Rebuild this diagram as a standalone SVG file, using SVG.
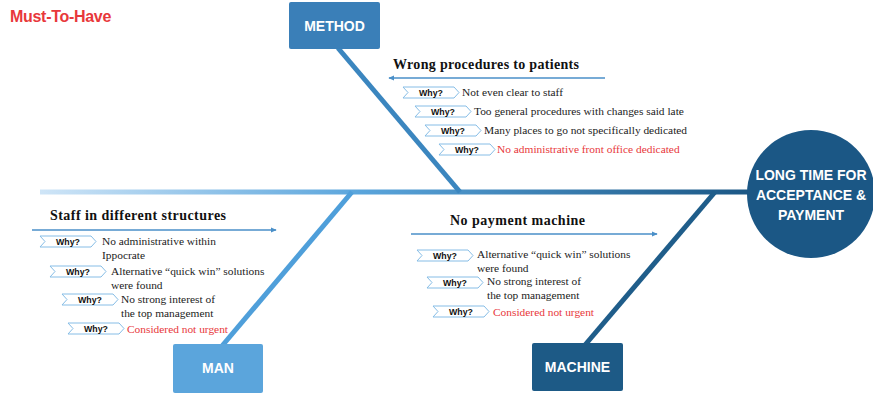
<svg xmlns="http://www.w3.org/2000/svg" width="873" height="396" viewBox="0 0 873 396">
<defs>
<linearGradient id="spineG" x1="40" y1="0" x2="750" y2="0" gradientUnits="userSpaceOnUse">
<stop offset="0" stop-color="#cfe5f7"/>
<stop offset="0.45" stop-color="#5aa5dc"/>
<stop offset="1" stop-color="#1b5785"/>
</linearGradient>
<marker id="ah" viewBox="0 0 8 8" refX="7" refY="4" markerWidth="6" markerHeight="6" orient="auto-start-reverse" markerUnits="userSpaceOnUse">
<path d="M0,0.5 L8,4 L0,7.5 Z" fill="#4a8fc8"/>
</marker>
<path id="chev" d="M0,0 H51 L56,5.5 L51,11 H0 L5,5.5 Z"/>
</defs>
<style>
.boxt{font-family:"Liberation Sans",Arial,sans-serif;font-weight:bold;font-size:14px;fill:#fff;text-anchor:middle}
.head{font-family:"Liberation Serif","Times New Roman",serif;font-weight:bold;font-size:14px;fill:#111}
.t{font-family:"Liberation Serif","Times New Roman",serif;font-size:11.4px;fill:#222}
.red{fill:#e8383b}
.ch{fill:#fff;stroke:#86bde6;stroke-width:1}
.why{font-family:"Liberation Sans",Arial,sans-serif;font-weight:bold;font-size:8.8px;fill:#111;text-anchor:middle}
.arr{stroke:#4a8fc8;stroke-width:1.3;fill:none;marker-end:url(#ah)}
</style>

<text x="10" y="22" font-family="Liberation Sans, Arial, sans-serif" font-weight="bold" font-size="16" fill="#e8383b" letter-spacing="-0.3">Must-To-Have</text>

<g id="connectors">
<line x1="40" y1="192" x2="752" y2="192" stroke="url(#spineG)" stroke-width="5"/>
<line x1="338" y1="48" x2="460" y2="192" stroke="#3b86bf" stroke-width="5"/>
<line x1="222" y1="346" x2="352" y2="192" stroke="#4f9fda" stroke-width="5"/>
<line x1="585" y1="345" x2="715" y2="192" stroke="#1f5d8a" stroke-width="5"/>
<line class="arr" x1="605" y1="78" x2="389" y2="78"/>
<line class="arr" x1="32" y1="230" x2="276" y2="230"/>
<line class="arr" x1="411" y1="234" x2="657" y2="234"/>
</g>

<g id="effect">
<circle cx="811" cy="194" r="64" fill="#1b5785"/>
<text class="boxt" x="811" y="180" font-size="15">LONG TIME FOR</text>
<text class="boxt" x="811" y="200" font-size="15">ACCEPTANCE &amp;</text>
<text class="boxt" x="811" y="220" font-size="15">PAYMENT</text>
</g>

<g id="method">
<rect x="289" y="2" width="91" height="47" rx="2" fill="#3a7fb8"/>
<text class="boxt" x="334.500" y="31">METHOD</text>
</g>
<g id="man">
<rect x="173" y="344" width="90" height="49" rx="2" fill="#5ba5dc"/>
<text class="boxt" x="218" y="373">MAN</text>
</g>
<g id="machine">
<rect x="532" y="343" width="91" height="48" rx="2" fill="#1d5a86"/>
<text class="boxt" x="577.500" y="372">MACHINE</text>
</g>

<g id="method-causes">
<text class="head" x="393" y="69" textLength="186" lengthAdjust="spacing">Wrong procedures to patients</text>
<use href="#chev" class="ch" x="403" y="87"/><text class="why" x="431" y="95.500">Why?</text>
<text class="t" x="462" y="96">Not even clear to staff</text>
<use href="#chev" class="ch" x="415" y="106"/><text class="why" x="443" y="114.500">Why?</text>
<text class="t" x="474" y="115">Too general procedures with changes said late</text>
<use href="#chev" class="ch" x="425" y="125"/><text class="why" x="453" y="133.500">Why?</text>
<text class="t" x="484" y="134">Many places to go not specifically dedicated</text>
<use href="#chev" class="ch" x="439" y="144"/><text class="why" x="467" y="152.500">Why?</text>
<text class="t red" x="497" y="153">No administrative front office dedicated</text>
</g>

<g id="man-causes">
<text class="head" x="50" y="220" textLength="176" lengthAdjust="spacing">Staff in different structures</text>
<use href="#chev" class="ch" x="40" y="236"/><text class="why" x="68" y="244.500">Why?</text>
<text class="t" x="102" y="245">No administrative within</text>
<text class="t" x="102" y="259">Ippocrate</text>
<use href="#chev" class="ch" x="50" y="266"/><text class="why" x="78" y="274.500">Why?</text>
<text class="t" x="111" y="275">Alternative “quick win” solutions</text>
<text class="t" x="111" y="289">were found</text>
<use href="#chev" class="ch" x="62" y="294"/><text class="why" x="90" y="302.500">Why?</text>
<text class="t" x="121" y="303">No strong interest of</text>
<text class="t" x="121" y="317">the top management</text>
<use href="#chev" class="ch" x="68" y="323"/><text class="why" x="96" y="331.500">Why?</text>
<text class="t red" x="127" y="333">Considered not urgent</text>
</g>

<g id="machine-causes">
<text class="head" x="450" y="225" textLength="135" lengthAdjust="spacing">No payment machine</text>
<use href="#chev" class="ch" x="417" y="250"/><text class="why" x="445" y="258.500">Why?</text>
<text class="t" x="477" y="258">Alternative “quick win” solutions</text>
<text class="t" x="477" y="272">were found</text>
<use href="#chev" class="ch" x="427" y="277"/><text class="why" x="455" y="285.500">Why?</text>
<text class="t" x="487" y="285">No strong interest of</text>
<text class="t" x="487" y="299">the top management</text>
<use href="#chev" class="ch" x="433" y="306"/><text class="why" x="461" y="314.500">Why?</text>
<text class="t red" x="493" y="316">Considered not urgent</text>
</g>
</svg>
